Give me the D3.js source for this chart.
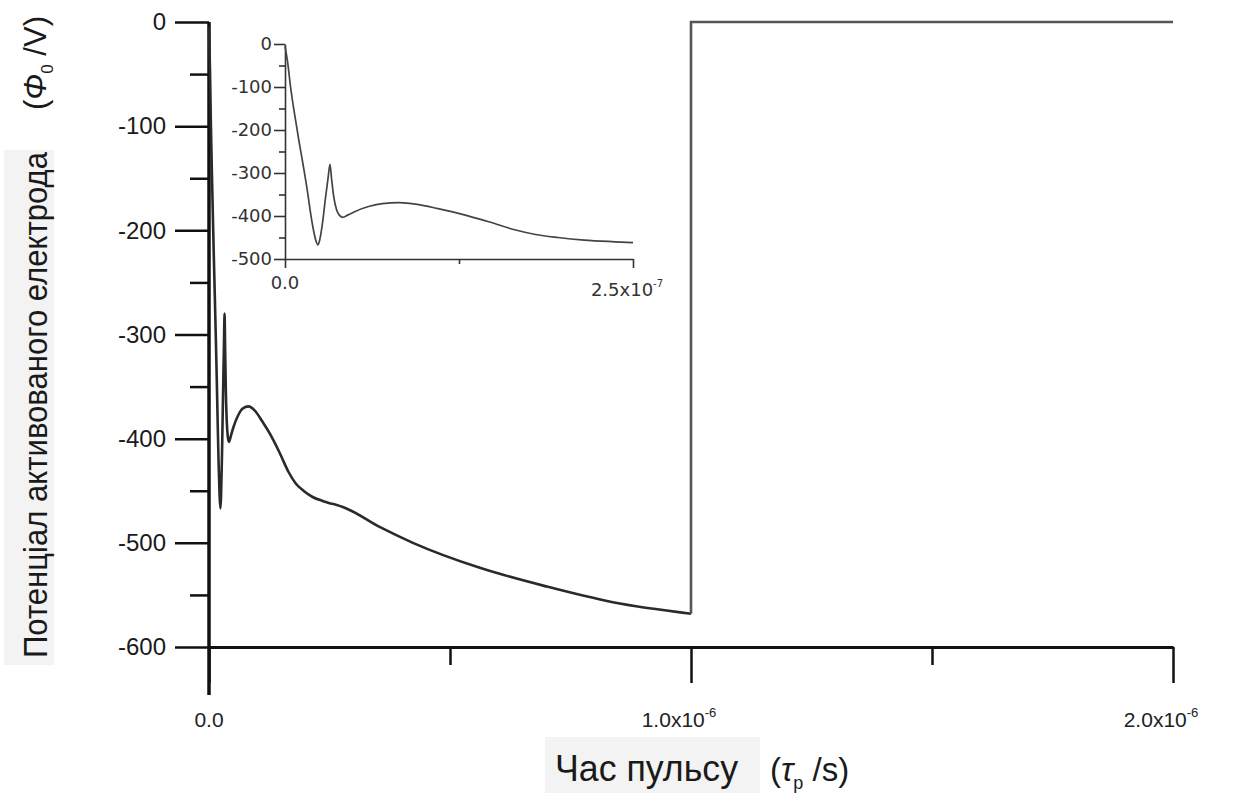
<!DOCTYPE html>
<html>
<head>
<meta charset="utf-8">
<script src="https://cdn.jsdelivr.net/npm/d3@7"></script>
<style>
  html, body { margin: 0; padding: 0; background: #fff; }
  svg { display: block; font-family: "Liberation Sans", Arial, sans-serif; }
</style>
</head>
<body>
<svg id="chart" width="1233" height="793"></svg>
<script>
// pulse time in ns, potential of activated electrode in V
const timeNs = [0, 2, 4, 6, 8, 10, 12, 14, 16, 18, 20, 22, 23.7, 25, 27, 29, 31, 32.3, 33.5, 35, 37, 39, 41.4,
  45, 50, 60, 70, 82, 95, 110, 126, 147, 165, 180, 196, 215, 237, 250, 260, 285, 355, 423,
  562, 701, 838, 1000];
const potential = [-5, -45, -100, -145, -185, -225, -262, -300, -340, -385, -425, -455, -467, -455, -415, -360, -310, -280, -315, -355, -385, -398, -403,
  -398, -390, -378, -371, -369, -373, -383, -395, -414, -432, -443, -450, -456, -460, -462, -463, -467, -485, -500,
  -524, -542, -557, -568];
// after the pulse the potential returns to zero
const afterTime = [1000, 1000, 2000];
const afterPotential = [-568, 0, 0];

const mainYTicks = [0, -100, -200, -300, -400, -500, -600];
const mainYMinor = [-50, -150, -250, -350, -450, -550];
const mainXTicks = [0, 1000, 2000];
const mainXLabels = [["0.0", ""], ["1.0x10", "-6"], ["2.0x10", "-6"]];
const mainXMinor = [500, 1500];

const insetYTicks = [0, -100, -200, -300, -400, -500];
const insetYMinor = [-50, -150, -250, -350, -450];
const insetXTicks = [0, 250];
const insetXLabels = [["0.0", ""], ["2.5x10", "-7"]];
const insetXMinor = [125];

const yTitle = "Потенціал активованого електрода";
const xTitle = "Час пульсу";

const svg = d3.select("#chart");
const points = timeNs.map((t, i) => ({ t, v: potential[i] }));
const after = afterTime.map((t, i) => ({ t, v: afterPotential[i] }));

// ---------- main chart ----------
const x = d3.scaleLinear().domain([0, 2000]).range([209, 1173]);
const y = d3.scaleLinear().domain([0, -600]).range([22, 647]);

const gx = svg.append("g").attr("transform", "translate(0,647)");
gx.call(d3.axisBottom(x).tickValues(mainXMinor).tickSize(18).tickSizeOuter(0).tickFormat(""));
gx.call(g => g.selectAll(".domain").remove());
const gxMajor = svg.append("g").attr("transform", "translate(0,647)")
  .call(d3.axisBottom(x).tickValues(mainXTicks).tickSize(36).tickSizeOuter(0).tickFormat(""));
svg.selectAll("g").selectAll("line").attr("stroke", "#111").attr("stroke-width", 2.5);
gxMajor.select(".domain").attr("stroke", "#111").attr("stroke-width", 3);

const gy = svg.append("g").attr("transform", "translate(209,0)");
gy.call(d3.axisLeft(y).tickValues(mainYMinor).tickSize(19).tickFormat(""));
gy.call(g => g.selectAll(".domain").remove());
gy.selectAll("line").attr("stroke", "#111").attr("stroke-width", 2.5);
const gyMajor = svg.append("g").attr("transform", "translate(209,0)")
  .call(d3.axisLeft(y).tickValues(mainYTicks).tickSize(34).tickPadding(9).tickSizeOuter(0).tickFormat(d => String(d)));
gyMajor.selectAll("line").attr("stroke", "#111").attr("stroke-width", 2.5);
gyMajor.select(".domain").remove();
gyMajor.selectAll("text").attr("font-size", 24).attr("fill", "#1a1a1a").attr("font-family", "Liberation Sans, Arial");

// y axis line runs past the x axis
svg.append("line").attr("x1", 209).attr("x2", 209).attr("y1", y(0)).attr("y2", 695)
  .attr("stroke", "#111").attr("stroke-width", 3.5);

// x tick labels with superscript exponent
const xl = svg.append("g").selectAll("text").data(mainXTicks).join("text")
  .attr("x", (d, i) => x(d) - (i === 0 ? 0 : 12))
  .attr("y", 727)
  .attr("text-anchor", "middle")
  .attr("font-size", 21)
  .attr("fill", "#222");
xl.append("tspan").text((d, i) => mainXLabels[i][0]);
xl.append("tspan").attr("dy", -10).attr("font-size", 13).text((d, i) => mainXLabels[i][1]);

const line = d3.line().x(d => x(d.t)).y(d => y(d.v)).curve(d3.curveMonotoneX);
svg.append("path").datum(points).attr("fill", "none").attr("stroke", "#2a2a2a").attr("stroke-width", 2.6).attr("d", line);
svg.append("path").datum(after).attr("fill", "none").attr("stroke", "#555").attr("stroke-width", 2.6)
  .attr("d", d3.line().x(d => x(d.t)).y(d => y(d.v)));

// ---------- inset ----------
const xi = d3.scaleLinear().domain([0, 250]).range([285, 633]);
const yi = d3.scaleLinear().domain([0, -500]).range([44, 259]);
const inset = svg.append("g");

const giy = inset.append("g").attr("transform", "translate(285,0)");
giy.call(d3.axisLeft(yi).tickValues(insetYMinor).tickSize(6).tickFormat(""));
giy.select(".domain").remove();
const giyMajor = inset.append("g").attr("transform", "translate(285,0)")
  .call(d3.axisLeft(yi).tickValues(insetYTicks).tickSize(11).tickPadding(2).tickSizeOuter(0).tickFormat(d => String(d)));
giyMajor.selectAll("text").attr("font-size", 18).attr("fill", "#333")
  .attr("font-family", "DejaVu Sans, Arial");

const gix = inset.append("g").attr("transform", "translate(0,259)");
gix.call(d3.axisBottom(xi).tickValues(insetXMinor).tickSize(5).tickFormat(""));
gix.select(".domain").remove();
const gixMajor = inset.append("g").attr("transform", "translate(0,259)")
  .call(d3.axisBottom(xi).tickValues(insetXTicks).tickSize(9).tickSizeOuter(0).tickFormat(""));
inset.selectAll("line").attr("stroke", "#333").attr("stroke-width", 1.6);
inset.selectAll(".domain").attr("stroke", "#333").attr("stroke-width", 1.6);

const ixl = inset.append("g").selectAll("text").data(insetXTicks).join("text")
  .attr("x", (d, i) => xi(d) + (i === 0 ? 0 : -6))
  .attr("y", (d, i) => i === 0 ? 289 : 296)
  .attr("text-anchor", "middle")
  .attr("font-size", 18)
  .attr("font-family", "DejaVu Sans, Arial")
  .attr("fill", "#333");
ixl.append("tspan").text((d, i) => insetXLabels[i][0]);
ixl.append("tspan").attr("dy", -9).attr("font-size", 10).text((d, i) => insetXLabels[i][1]);

const insetLine = d3.line().x(d => xi(d.t)).y(d => yi(d.v)).curve(d3.curveMonotoneX);
inset.append("path").datum(points.filter(d => d.t <= 250)).attr("fill", "none")
  .attr("stroke", "#444").attr("stroke-width", 1.7).attr("d", insetLine);

// ---------- axis titles ----------
svg.append("rect").attr("x", 4).attr("y", 150).attr("width", 50).attr("height", 515).attr("fill", "#f3f3f3");
svg.append("text").attr("transform", "translate(47,658) rotate(-90)")
  .attr("font-size", 33).attr("fill", "#1a1a1a")
  .attr("textLength", 506).attr("lengthAdjust", "spacingAndGlyphs").text(yTitle);
const yUnit = svg.append("text").attr("transform", "translate(46,110) rotate(-90)")
  .attr("font-size", 31).attr("fill", "#1a1a1a");
yUnit.append("tspan").text("(");
yUnit.append("tspan").attr("font-style", "italic").text("Φ");
yUnit.append("tspan").attr("dy", 7).attr("font-size", 17).text("0");
yUnit.append("tspan").attr("dy", -7).text(" /V)");

svg.append("rect").attr("x", 545).attr("y", 737).attr("width", 215).attr("height", 56).attr("fill", "#f3f3f3");
svg.append("text").attr("x", 555).attr("y", 781).attr("font-size", 36).attr("fill", "#1a1a1a")
  .attr("textLength", 183).attr("lengthAdjust", "spacingAndGlyphs").text(xTitle);
const xUnit = svg.append("text").attr("x", 770).attr("y", 781).attr("font-size", 33).attr("fill", "#1a1a1a");
xUnit.append("tspan").text("(");
xUnit.append("tspan").attr("font-style", "italic").text("τ");
xUnit.append("tspan").attr("dy", 8).attr("font-size", 18).text("p");
xUnit.append("tspan").attr("dy", -8).text(" /s)");
</script>
</body>
</html>
